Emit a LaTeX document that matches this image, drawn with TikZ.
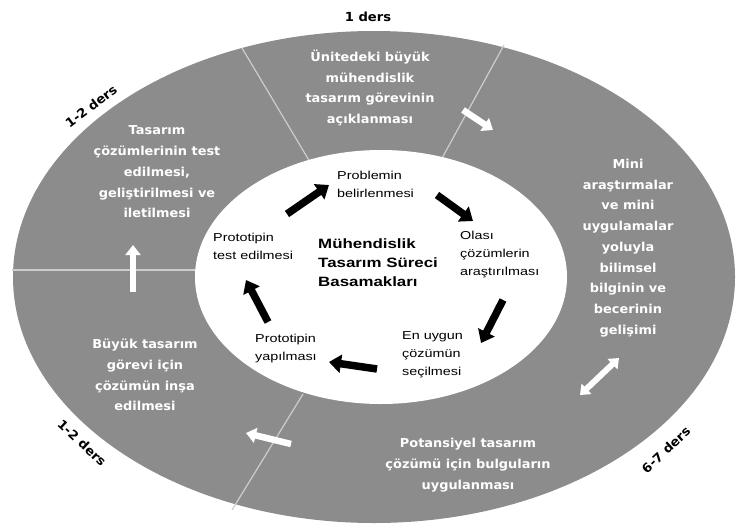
\documentclass[tikz,border=0pt]{standalone}
\usepackage{fontspec}
\usetikzlibrary{arrows.meta}
\newfontfamily\comicf[FakeStretch=1.05,BoldFeatures={FakeStretch=1.05}]{DejaVu Sans}
\newfontfamily\arialf[FakeStretch=1.25,BoldFeatures={FakeStretch=1.25}]{Liberation Sans}
\definecolor{ringgray}{RGB}{140,140,140}
\definecolor{divgray}{RGB}{205,205,205}
\begin{document}
\begin{tikzpicture}[x=1pt,y=-1pt,
  outertext/.style={text=white,font=\comicf\bfseries\fontsize{12.3}{20.7}\selectfont,align=center,inner sep=0pt},
  steptext/.style={text=black,font=\arialf\fontsize{11.5}{18}\selectfont,align=left,inner sep=0pt,anchor=north west},
  durlabel/.style={text=black,font=\comicf\bfseries\fontsize{12.5}{14}\selectfont,inner sep=0pt},
  divider/.style={draw=divgray,line width=1.2pt},
  whitearrow/.style={draw=white,line width=6.5pt,-{Triangle[width=15pt,length=10pt]}},
  whitedouble/.style={draw=white,line width=6pt,{Triangle[width=14pt,length=9pt]}-{Triangle[width=14pt,length=9pt]}},
  blackarrow/.style={draw=black,line width=7.5pt,-{Triangle[width=18pt,length=12pt]}}]
\useasboundingbox (0,0) rectangle (738,525);
% outer ring
\fill[ringgray] (374,277) ellipse [x radius=361pt, y radius=246pt];
% dividers
\coordinate (d1a) at (242,48); \coordinate (d1b) at (310,162);
\coordinate (d2a) at (504,45); \coordinate (d2b) at (441,160);
\coordinate (d3a) at (12,270); \coordinate (d3b) at (200,270);
\coordinate (d4a) at (303,394); \coordinate (d4b) at (232,510);
\draw[divider] (d1a) -- (d1b);
\draw[divider] (d2a) -- (d2b);
\draw[divider] (d3a) -- (d3b);
\draw[divider] (d4a) -- (d4b);
% inner ellipse
\fill[white] (381,277) ellipse [x radius=186pt, y radius=127pt];
% white arrows in the ring
\coordinate (wa1s) at (463,110); \coordinate (wa1e) at (493,130);
\coordinate (wa2s) at (133,292); \coordinate (wa2e) at (133,245);
\coordinate (wa3s) at (291,444); \coordinate (wa3e) at (246,433);
\coordinate (wa4s) at (580,395); \coordinate (wa4e) at (619,358);
\draw[whitearrow] (wa1s) -- (wa1e);
\draw[whitearrow] (wa2s) -- (wa2e);
\draw[whitearrow] (wa3s) -- (wa3e);
\draw[whitedouble] (wa4s) -- (wa4e);
% outer texts
\node[outertext] (o1) at (370,88) {Ünitedeki büyük\\mühendislik\\tasarım görevinin\\açıklanması};
\node[outertext] (o2) at (628,248) {Mini\\araştırmalar\\ve mini\\uygulamalar\\yoluyla\\bilimsel\\bilginin ve\\becerinin\\gelişimi};
\node[outertext] (o3) at (468,465) {Potansiyel tasarım\\çözümü için bulguların\\uygulanması};
\node[outertext] (o4) at (145,375) {Büyük tasarım\\görevi için\\çözümün inşa\\edilmesi};
\node[outertext] (o5) at (157,172) {Tasarım\\çözümlerinin test\\edilmesi,\\geliştirilmesi ve\\iletilmesi};
% duration labels
\node[durlabel] (l1) at (368,17) {1 ders};
\node[durlabel,rotate=37] (l2) at (91,106) {1-2 ders};
\node[durlabel,rotate=-43] (l3) at (82,443) {1-2 ders};
\node[durlabel,rotate=43] (l4) at (666,450) {6-7 ders};
% steps
\node[steptext] (s1) at (337,171) {Problemin\\belirlenmesi};
\node[steptext] (s2) at (460,231) {Olası\\çözümlerin\\araştırılması};
\node[steptext] (s3) at (402,331) {En uygun\\çözümün\\seçilmesi};
\node[steptext] (s4) at (255,334) {Prototipin\\yapılması};
\node[steptext] (s5) at (213,233) {Prototipin\\test edilmesi};
\node[text=black,font=\arialf\bfseries\fontsize{13.5}{19}\selectfont,align=left,inner sep=0pt,anchor=north west] (title) at (318,239) {Mühendislik\\Tasarım Süreci\\Basamakları};
% black cycle arrows
\coordinate (b1s) at (287,214); \coordinate (b1e) at (329,185);
\coordinate (b2s) at (437,195); \coordinate (b2e) at (473,221);
\coordinate (b3s) at (503,300); \coordinate (b3e) at (481,343);
\coordinate (b4s) at (377,369); \coordinate (b4e) at (329,362);
\coordinate (b5s) at (268,322); \coordinate (b5e) at (246,280);
\draw[blackarrow] (b1s) -- (b1e);
\draw[blackarrow] (b2s) -- (b2e);
\draw[blackarrow] (b3s) -- (b3e);
\draw[blackarrow] (b4s) -- (b4e);
\draw[blackarrow] (b5s) -- (b5e);
\end{tikzpicture}
\end{document}
